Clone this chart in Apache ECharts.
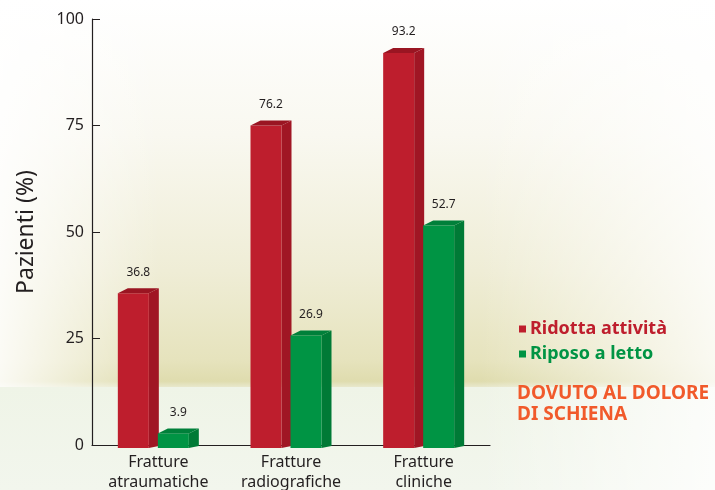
<!DOCTYPE html>
<html>
<head>
<meta charset="utf-8">
<script src="https://cdn.jsdelivr.net/npm/echarts@6/dist/echarts.min.js"></script>
<style>
  html, body { margin: 0; padding: 0; }
  #main { width: 715px; height: 490px; }
</style>
</head>
<body>
<div id="main"></div>
<script>
// dati
var categories = ['Fratture\natraumatiche', 'Fratture\nradiografiche', 'Fratture\ncliniche']
var ridottaAttivita = [36.8, 76.2, 93.2]
var riposoLetto = [3.9, 26.9, 52.7]
var yTicks = [0, 25, 50, 75, 100]

var TXT = '#231f20'
var FONT = 'Noto Sans'

// barra 3D: faccia frontale, lato e tetto
function bar3d (offset, front, side, roof) {
  return function (params, api) {
    var idx = api.value(0)
    var val = api.value(1)
    var top = api.coord([idx, val])
    var base = api.coord([idx, 0])
    var w = 31
    var dx = 10
    var dy = 5
    var x0 = top[0] + offset
    var yTop = top[1] + dy
    var yBot = base[1] + 3
    return {
      type: 'group',
      children: [
        {
          type: 'polygon',
          shape: { points: [[x0 + w, yTop], [x0 + w + dx, yTop - dy], [x0 + w + dx, yBot - 2], [x0 + w, yBot]] },
          style: { fill: side }
        },
        {
          type: 'rect',
          shape: { x: x0, y: yTop, width: w, height: yBot - yTop },
          style: { fill: front }
        },
        {
          type: 'polygon',
          shape: { points: [[x0, yTop], [x0 + dx, yTop - dy], [x0 + w + dx, yTop - dy], [x0 + w, yTop]] },
          style: { fill: roof }
        },
        {
          type: 'text',
          x: x0 + (w + dx) / 2,
          y: top[1] - 16,
          style: {
            text: String(val),
            fill: TXT,
            font: '12px "' + FONT + '"',
            align: 'center',
            verticalAlign: 'middle'
          }
        }
      ]
    }
  }
}

var myChart = echarts.init(document.getElementById('main'))
myChart.setOption({
  animation: false,
  backgroundColor: '#ffffff',
  textStyle: { fontFamily: FONT },
  graphic: [
    {
      type: 'rect',
      z: -100,
      silent: true,
      shape: { x: 0, y: 0, width: 715, height: 387 },
      style: {
        fill: new echarts.graphic.LinearGradient(0, 0, 0, 1, [
          { offset: 0, color: '#ffffff' },
          { offset: 0.35, color: '#f9f8f0' },
          { offset: 0.7, color: '#efedd6' },
          { offset: 0.93, color: '#e6e3bd' },
          { offset: 0.985, color: '#dfdcae' },
          { offset: 1, color: '#e8e8cc' }
        ])
      }
    },
    {
      type: 'rect',
      z: -99,
      silent: true,
      shape: { x: 0, y: 387, width: 715, height: 103 },
      style: {
        fill: new echarts.graphic.LinearGradient(0, 0, 0, 1, [
          { offset: 0, color: '#eff4e7' },
          { offset: 1, color: '#f2f6ed' }
        ])
      }
    },
    {
      type: 'rect',
      z: -98,
      silent: true,
      shape: { x: 0, y: 0, width: 160, height: 387 },
      style: {
        fill: new echarts.graphic.LinearGradient(0, 0, 1, 0, [
          { offset: 0, color: 'rgba(255,255,255,0.85)' },
          { offset: 0.4, color: 'rgba(255,255,255,0.5)' },
          { offset: 1, color: 'rgba(255,255,255,0)' }
        ])
      }
    },
    {
      type: 'rect',
      z: -98,
      silent: true,
      shape: { x: 480, y: 0, width: 235, height: 490 },
      style: {
        fill: new echarts.graphic.LinearGradient(0, 0, 1, 0, [
          { offset: 0, color: 'rgba(255,255,255,0)' },
          { offset: 1, color: 'rgba(255,255,255,0.8)' }
        ])
      }
    },
    {
      type: 'text',
      left: 517,
      top: 383,
      style: {
        text: 'DOVUTO AL DOLORE\nDI SCHIENA',
        fill: '#f15a2b',
        font: 'bold 19px "' + FONT + '"',
        lineHeight: 21
      }
    }
  ],
  grid: {
    left: 92,
    right: 225,
    top: 19,
    bottom: 45,
    outerBoundsMode: 'none'
  },
  legend: {
    orient: 'vertical',
    left: 514,
    top: 315,
    itemWidth: 7,
    itemHeight: 7,
    itemGap: 7,
    icon: 'rect',
    data: [
      { name: 'Ridotta attività', textStyle: { color: '#be1e2d' } },
      { name: 'Riposo a letto', textStyle: { color: '#009444' } }
    ],
    textStyle: { fontSize: 18, fontWeight: 'bold', fontFamily: FONT, padding: [0, 0, 0, -1] }
  },
  xAxis: {
    type: 'category',
    data: categories,
    axisLine: { lineStyle: { color: TXT, width: 1.2 } },
    axisTick: { inside: true, length: 8, lineStyle: { color: TXT } },
    axisLabel: { color: TXT, fontSize: 16, lineHeight: 20, margin: 7 }
  },
  yAxis: {
    type: 'value',
    min: yTicks[0],
    max: yTicks[yTicks.length - 1],
    interval: 25,
    name: 'Pazienti (%)',
    nameLocation: 'middle',
    nameRotate: 90,
    nameGap: 54,
    nameTextStyle: { color: TXT, fontSize: 23 },
    splitLine: { show: false },
    axisLine: { show: true, lineStyle: { color: TXT, width: 1.2 } },
    axisTick: { show: true, inside: true, length: 8, lineStyle: { color: TXT } },
    axisLabel: { color: TXT, fontSize: 16, margin: 8 }
  },
  series: [
    {
      name: 'Ridotta attività',
      type: 'custom',
      itemStyle: { color: '#be1e2d' },
      renderItem: bar3d(-40.5, '#be1e2d', '#a01624', '#9a1522'),
      data: ridottaAttivita.map(function (v, i) { return [i, v] })
    },
    {
      name: 'Riposo a letto',
      type: 'custom',
      itemStyle: { color: '#009444' },
      renderItem: bar3d(-0.5, '#009444', '#007a36', '#00803a'),
      data: riposoLetto.map(function (v, i) { return [i, v] })
    }
  ]
})
</script>
</body>
</html>
